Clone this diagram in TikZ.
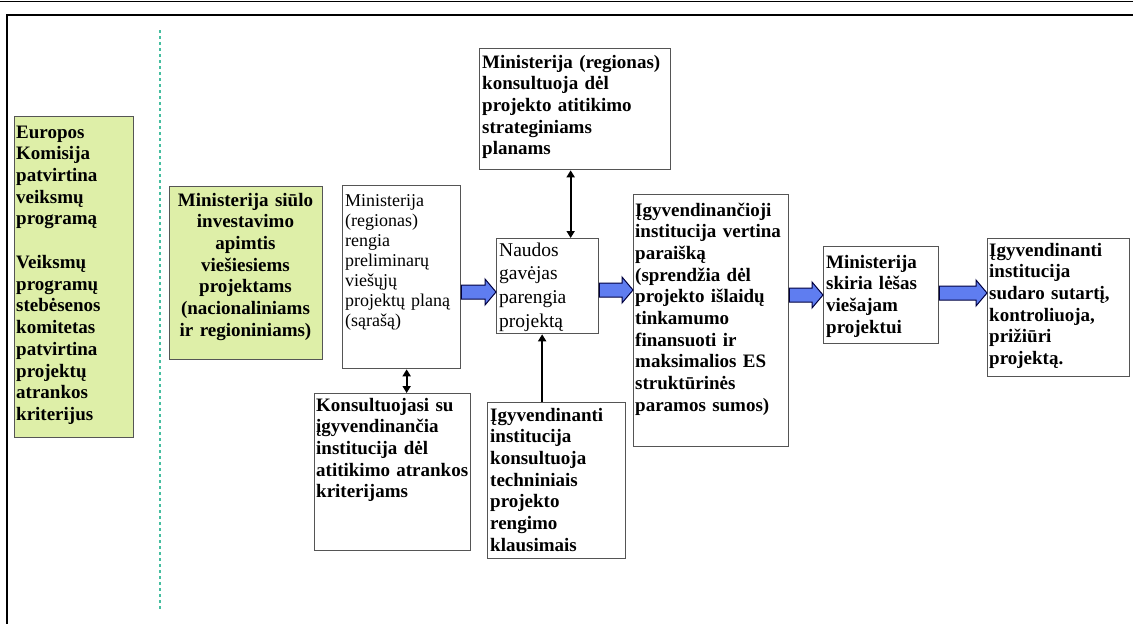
\documentclass[tikz,border=0pt]{standalone}
\usepackage{fontspec}
\setmainfont{Liberation Serif}
\usetikzlibrary{calc,arrows.meta}
\definecolor{boxgreen}{RGB}{222,239,168}
\definecolor{arrblue}{RGB}{95,125,240}
\definecolor{dashteal}{RGB}{70,190,160}
\definecolor{bord}{RGB}{85,85,85}
\newcommand{\myblockarrow}[3]{%
 \draw[barrow] let \p1=(#1.east), \p2=(#2.west) in
 (\x1,-#3pt+7pt) -- (\x2-11pt,-#3pt+7pt) -- (\x2-11pt,-#3pt+13pt) -- (\x2,-#3pt)
 -- (\x2-11pt,-#3pt-13pt) -- (\x2-11pt,-#3pt-7pt) -- (\x1,-#3pt-7pt) -- cycle;}
\begin{document}
\begin{tikzpicture}[x=1pt,y=-1pt,
 box/.style={draw=bord, line width=1.3pt, fill=white, inner sep=0pt, anchor=north west},
 gbox/.style={box, fill=boxgreen},
 bt/.style={inner sep=0pt, anchor=base west, text width=#1, align=left,
   font=\fontsize{19}{21.7}\selectfont\bfseries},
 ct/.style={inner sep=0pt, anchor=base, text width=#1, align=center,
   font=\fontsize{19}{21.7}\selectfont\bfseries},
 rt/.style={inner sep=0pt, anchor=base west, text width=#1, align=left,
   font=\fontsize{18}{20}\selectfont},
 nt/.style={inner sep=0pt, anchor=base west, text width=#1, align=left,
   font=\fontsize{19.5}{23.7}\selectfont},
 barrow/.style={draw=black!75!blue, line width=1pt, fill=arrblue, line join=miter},
 dar/.style={line width=2.2pt, {Triangle[length=7pt,width=8pt]}-{Triangle[length=7pt,width=8pt]}},
 sar/.style={line width=2.2pt, -{Triangle[length=7pt,width=8pt]}}
]
\useasboundingbox (0,0) rectangle (1133,624);
% frame
\draw[line width=1pt] (0,1) -- (1133,1);
\draw[line width=2pt] (7,624) -- (7,15) -- (1133,15);
% dashed separator
\draw[dashteal, line width=1.3pt, dash pattern=on 3pt off 3pt] (160,30) -- (160,610);

% green boxes
\node[gbox, minimum width=119, minimum height=321] (ek) at (14,116) {};
\node[bt=130] (ekt) at (16,138) {Europos\\Komisija\\patvirtina\\veiksmų\\programą\\[22pt]Veiksmų\\programų\\stebėsenos\\komitetas\\patvirtina\\projektų\\atrankos\\kriterijus};

\node[gbox, minimum width=153, minimum height=173] (ms1) at (169,186) {};
\node[ct=153] (ms1t) at (245.5,206) {Ministerija siūlo\\investavimo\\apimtis\\viešiesiems\\projektams\\(nacionaliniams\\ir regioniniams)};

% white boxes
\node[box, minimum width=118, minimum height=183] (b3) at (342,185) {};
\node[rt=140] (b3t) at (345,206) {Ministerija\\(regionas)\\rengia\\preliminarų\\viešųjų\\projektų planą\\(sąrašą)};

\node[box, minimum width=191, minimum height=121] (tp) at (479,48) {};
\node[bt=200] (tpt) at (482,68) {Ministerija (regionas)\\konsultuoja dėl\\projekto atitikimo\\strateginiams\\planams};

\node[box, minimum width=102, minimum height=95] (nd) at (496,238) {};
\node[nt=120] (ndt) at (499,256) {Naudos\\gavėjas\\parengia\\projektą};

\node[box, minimum width=156, minimum height=157] (ks) at (314,393) {};
\node[bt=170] (kst) at (316,411) {Konsultuojasi su\\įgyvendinančia\\institucija dėl\\atitikimo atrankos\\kriterijams};

\node[box, minimum width=138, minimum height=156] (ig) at (487,402) {};
\node[bt=150] (igt) at (490,421) {Įgyvendinanti\\institucija\\konsultuoja\\techniniais\\projekto\\rengimo\\klausimais};

\node[box, minimum width=155, minimum height=252] (iv) at (633,194) {};
\node[bt=170] (ivt) at (635,216) {Įgyvendinančioji\\institucija vertina\\paraišką\\(sprendžia dėl\\projekto išlaidų\\tinkamumo\\finansuoti ir\\maksimalios ES\\struktūrinės\\paramos sumos)};

\node[box, minimum width=115, minimum height=97] (ms) at (823,246) {};
\node[bt=130] (mst) at (826,268) {Ministerija\\skiria lėšas\\viešajam\\projektui};

\node[box, minimum width=142, minimum height=138] (is) at (987,238) {};
\node[bt=150] (ist) at (989,256) {Įgyvendinanti\\institucija\\sudaro sutartį,\\kontroliuoja,\\prižiūri\\projektą.};

% block arrows
\myblockarrow{b3}{nd}{292}
\myblockarrow{nd}{iv}{290}
\myblockarrow{iv}{ms}{295}
\myblockarrow{ms}{is}{293}

% thin arrows
\coordinate (c1) at ($(tp.south)+(-4.5,0)$);
\draw[dar] (c1) -- (c1 |- nd.north);
\coordinate (c2) at ($(b3.south)+(5,0)$);
\draw[dar] (c2) -- (c2 |- ks.north);
\coordinate (c3) at ($(ig.north)+(-14.5,0)$);
\draw[sar] (c3) -- (c3 |- nd.south);
\end{tikzpicture}
\end{document}
